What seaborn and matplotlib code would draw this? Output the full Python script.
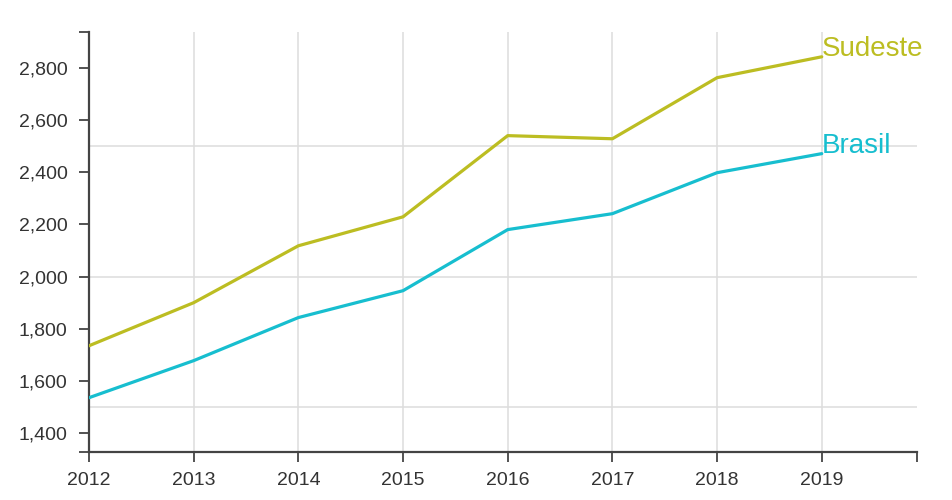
import matplotlib
matplotlib.use("Agg")
import matplotlib.pyplot as plt
import seaborn as sns
import pandas as pd

years = [2012, 2013, 2014, 2015, 2016, 2017, 2018, 2019]
sudeste = [1735, 1900, 2118, 2229, 2540, 2528, 2762, 2842]
brasil = [1536, 1678, 1843, 1946, 2180, 2241, 2398, 2471]
series_names = ["Sudeste", "Brasil"]
series_colors = ["#bcbd22", "#17becf"]
y_ticks = [1400, 1600, 1800, 2000, 2200, 2400, 2600, 2800]
h_grid = [1500, 2000, 2500]

df = pd.DataFrame({
    "ano": years * 2,
    "valor": sudeste + brasil,
    "serie": ["Sudeste"] * len(years) + ["Brasil"] * len(years),
})

sns.set_theme(style="white")
plt.rcParams["font.family"] = ["Liberation Sans", "DejaVu Sans"]

fig = plt.figure(figsize=(9.52, 5.0), dpi=100)
ax = fig.add_axes([89 / 952, 1 - 452 / 500, (917 - 89) / 952, (452 - 32) / 500])

xlo, xhi = 2012, 2019.91
ylo, yhi = 1328, 2937

ax.set_xlim(xlo, xhi)
ax.set_ylim(ylo, yhi)

for g in h_grid:
    ax.axhline(g, color="#dddddd", lw=1.1, zorder=0)
ax.set_xticks(years)
ax.grid(axis="x", color="#dddddd", lw=1.1, zorder=0)
ax.set_axisbelow(True)

sns.lineplot(data=df, x="ano", y="valor", hue="serie", hue_order=series_names,
             palette=series_colors, lw=2.3, ax=ax, legend=False, zorder=3)

for name, vals, col in zip(series_names, [sudeste, brasil], series_colors):
    ax.annotate(name, (years[-1], vals[-1]), xytext=(0, 0.5), textcoords="offset points",
                color=col, fontsize=20, ha="left", va="baseline", zorder=4,
                annotation_clip=False)

ax.set_yticks(y_ticks)
ax.set_yticklabels([f"{v:,}" for v in y_ticks])
ax.set_xticks(years)
ax.set_xticklabels([str(y) for y in years])
ax.set_xticks([xlo, xhi], minor=True)
ax.set_yticks([ylo, yhi], minor=True)

for s in ["top", "right"]:
    ax.spines[s].set_visible(False)
for s in ["left", "bottom"]:
    ax.spines[s].set_color("#444444")
    ax.spines[s].set_linewidth(1.6)

ax.tick_params(axis="both", which="both", direction="out", length=7.5, width=1.3,
               color="#444444", labelcolor="#333333", labelsize=14,
               left=True, bottom=True)
ax.tick_params(axis="y", which="both", pad=8)
ax.tick_params(axis="x", which="both", pad=7)
ax.set_xlabel("")
ax.set_ylabel("")

fig.savefig("out.png", dpi=100)
